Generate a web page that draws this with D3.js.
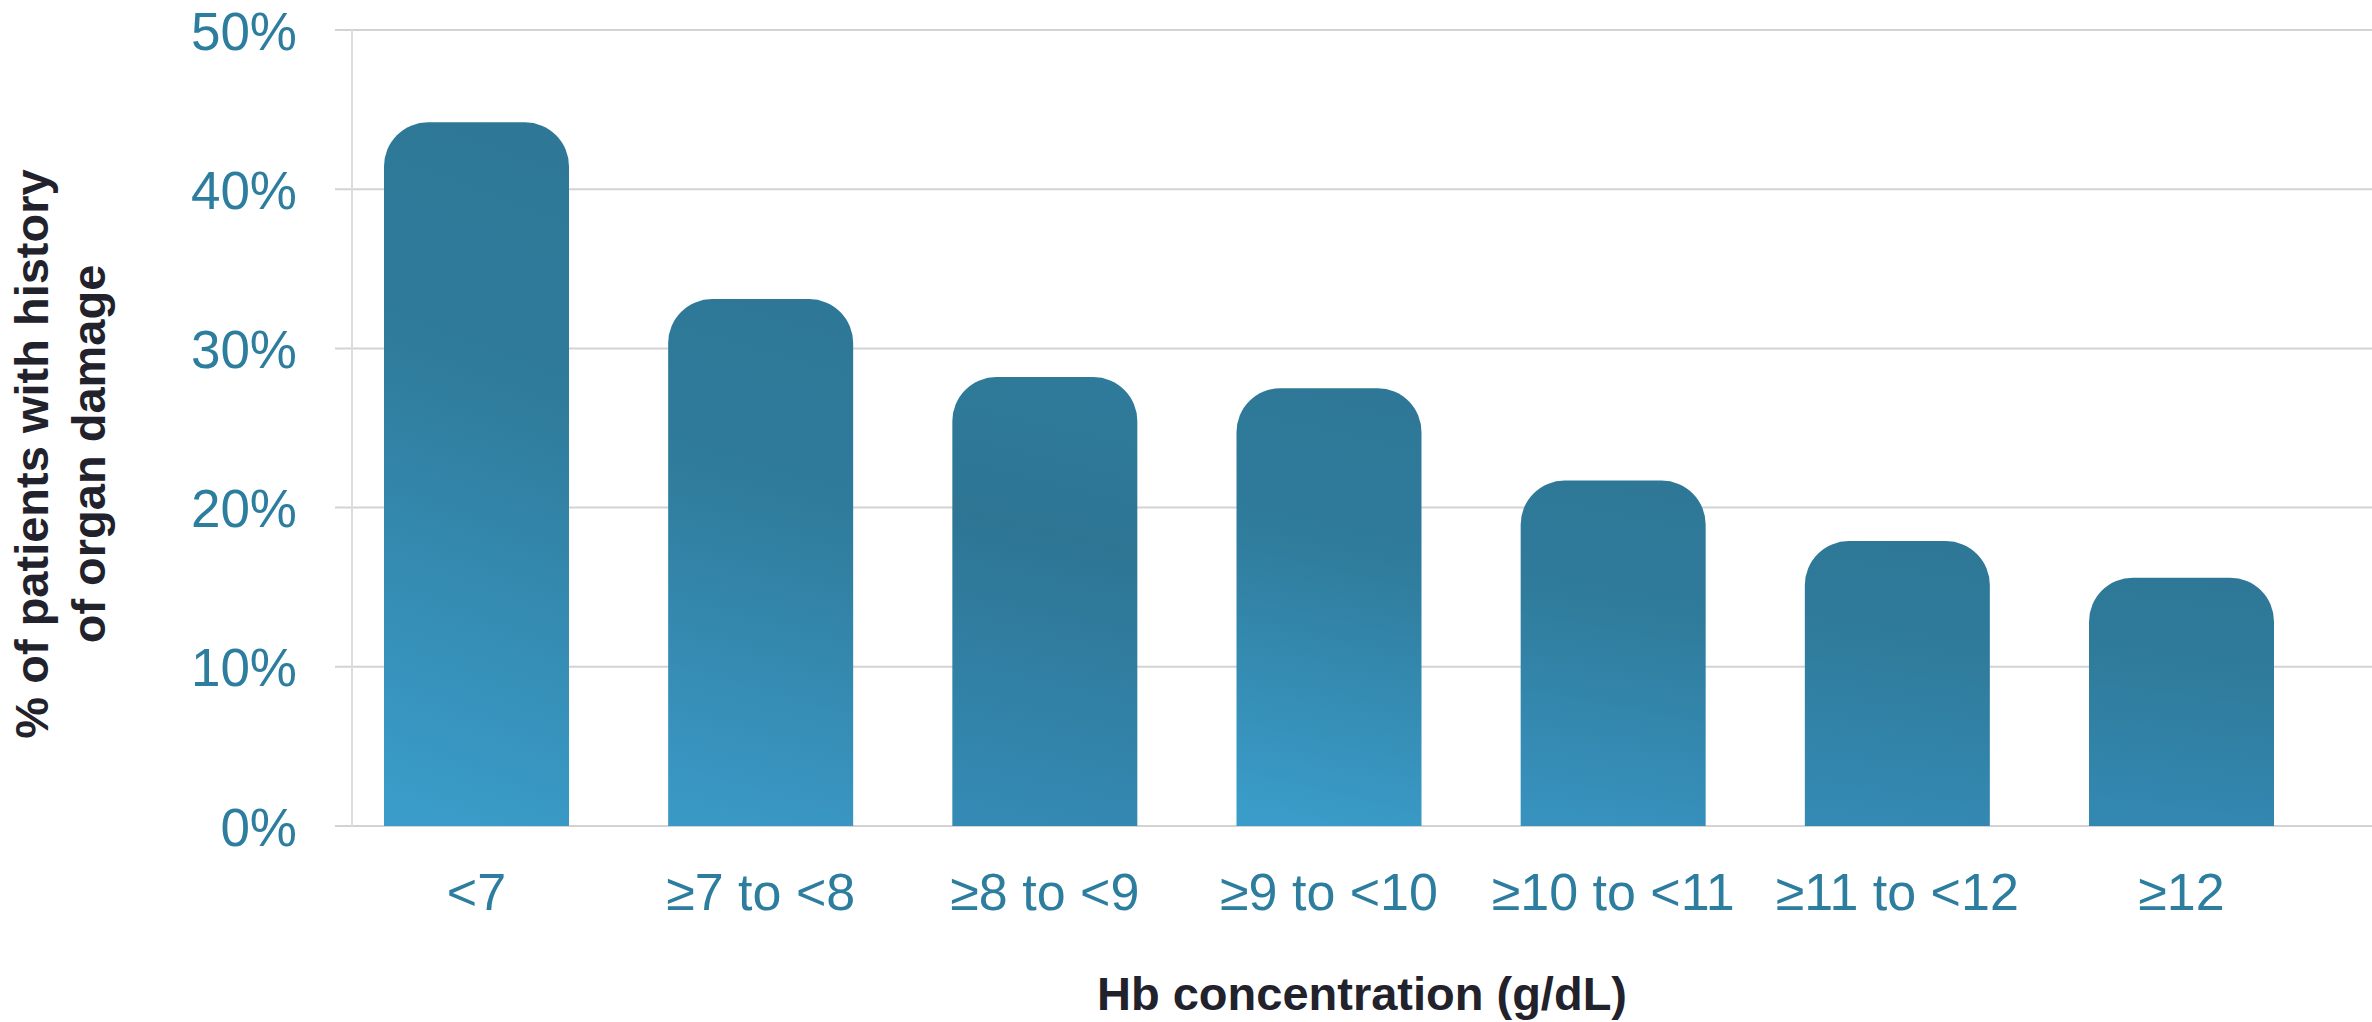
<!DOCTYPE html>
<html>
<head>
<meta charset="utf-8">
<script src="https://cdn.jsdelivr.net/npm/d3@7"></script>
<style>
  html, body { margin: 0; padding: 0; background: #ffffff; }
  svg { display: block; font-family: "Liberation Sans", Arial, sans-serif; }
</style>
</head>
<body>
<svg id="hb-chart" width="2372" height="1022"></svg>
<script>
// data
const categories = ["<7", "≥7 to <8", "≥8 to <9", "≥9 to <10", "≥10 to <11", "≥11 to <12", "≥12"];
const organDamage = [44.2, 33.1, 28.2, 27.5, 21.7, 17.9, 15.6];
const yTicks = [0, 10, 20, 30, 40, 50];

// bar shading, top -> bottom
const barShades = [
    ["#2e7797", "#2f7b9b", "#3a9cc9"],
    ["#2e7797", "#2f7b9b", "#3a98c5"],
    ["#2f7a9a", "#2e7594", "#348ab4"],
    ["#2e7797", "#2f7b9b", "#3a9cc9"],
    ["#2e7797", "#2f7b9b", "#3792be"],
    ["#2e7797", "#2f7b9b", "#348ab4"],
    ["#2e7797", "#2f7b9b", "#3388b2"]
];

const svg = d3.select("#hb-chart"),
    width = +svg.attr("width"),
    height = +svg.attr("height"),
    margin = { top: 30, right: 0, bottom: 196, left: 352 },
    chartHeight = height - margin.bottom;

const teal = "#2d7d9f",
    ink = "#22222c",
    grid = "#d3d3d3";

const x = d3.scaleBand()
    .domain(categories)
    .range([margin.left + 32, width - 98])
    .paddingInner(0.349)
    .paddingOuter(0);

const y = d3.scaleLinear()
    .domain([0, 50])
    .range([chartHeight, margin.top]);

// gradients
const defs = svg.append("defs");
barShades.forEach((s, i) => {
    const g = defs.append("linearGradient")
        .attr("id", "barGrad" + i)
        .attr("x1", 0.55).attr("y1", 0)
        .attr("x2", 0.45).attr("y2", 1);
    g.append("stop").attr("offset", "0%").attr("stop-color", s[0]);
    g.append("stop").attr("offset", "35%").attr("stop-color", s[1]);
    g.append("stop").attr("offset", "100%").attr("stop-color", s[2]);
});

// gridlines
svg.append("g")
    .selectAll("line")
    .data(yTicks)
    .join("line")
    .attr("x1", margin.left - 17)
    .attr("x2", width)
    .attr("y1", d => y(d))
    .attr("y2", d => y(d))
    .attr("stroke", grid)
    .attr("stroke-width", 2);

// vertical axis line
svg.append("line")
    .attr("x1", margin.left).attr("x2", margin.left)
    .attr("y1", y(50)).attr("y2", y(0))
    .attr("stroke", "#dcdcdc")
    .attr("stroke-width", 2);

// y tick labels
const yAxis = svg.append("g")
    .attr("transform", `translate(${margin.left - 55},0)`)
    .call(d3.axisLeft(y).tickValues(yTicks).tickSize(0).tickPadding(0).tickFormat(d => d + "%"));
yAxis.select(".domain").remove();
yAxis.selectAll("text")
    .attr("dy", null)
    .attr("y", 19)
    .style("font-size", "53px")
    .style("fill", teal)
    .style("font-family", "Liberation Sans, Arial, sans-serif");

// bars with rounded tops
function roundTop(x0, y0, w, h, r) {
    r = Math.min(r, w / 2, h);
    return `M${x0},${y0 + h}V${y0 + r}A${r},${r} 0 0 1 ${x0 + r},${y0}H${x0 + w - r}A${r},${r} 0 0 1 ${x0 + w},${y0 + r}V${y0 + h}Z`;
}

svg.append("g")
    .selectAll("path")
    .data(categories.map((c, i) => ({ cat: c, value: organDamage[i], i })))
    .join("path")
    .attr("d", d => roundTop(x(d.cat), y(d.value), x.bandwidth(), y(0) - y(d.value), 44))
    .attr("fill", d => `url(#barGrad${d.i})`);

// x labels
const xAxis = svg.append("g")
    .attr("transform", `translate(0,${chartHeight})`)
    .call(d3.axisBottom(x).tickSize(0).tickPadding(0));
xAxis.select(".domain").remove();
xAxis.selectAll("text")
    .attr("dy", null)
    .attr("y", 84)
    .style("font-size", "52px")
    .style("fill", teal)
    .style("font-family", "Liberation Sans, Arial, sans-serif");

// axis titles
svg.append("text")
    .attr("x", (margin.left + width) / 2)
    .attr("y", 1010)
    .attr("text-anchor", "middle")
    .style("font-size", "47px")
    .style("font-weight", "bold")
    .style("fill", ink)
    .text("Hb concentration (g/dL)");

const yTitle = svg.append("text")
    .attr("transform", "translate(48,454) rotate(-90)")
    .attr("text-anchor", "middle")
    .style("font-size", "47px")
    .style("font-weight", "bold")
    .style("fill", ink);
yTitle.append("tspan").attr("x", 0).attr("y", 0).text("% of patients with history");
yTitle.append("tspan").attr("x", 0).attr("y", 57).text("of organ damage");
</script>
</body>
</html>
